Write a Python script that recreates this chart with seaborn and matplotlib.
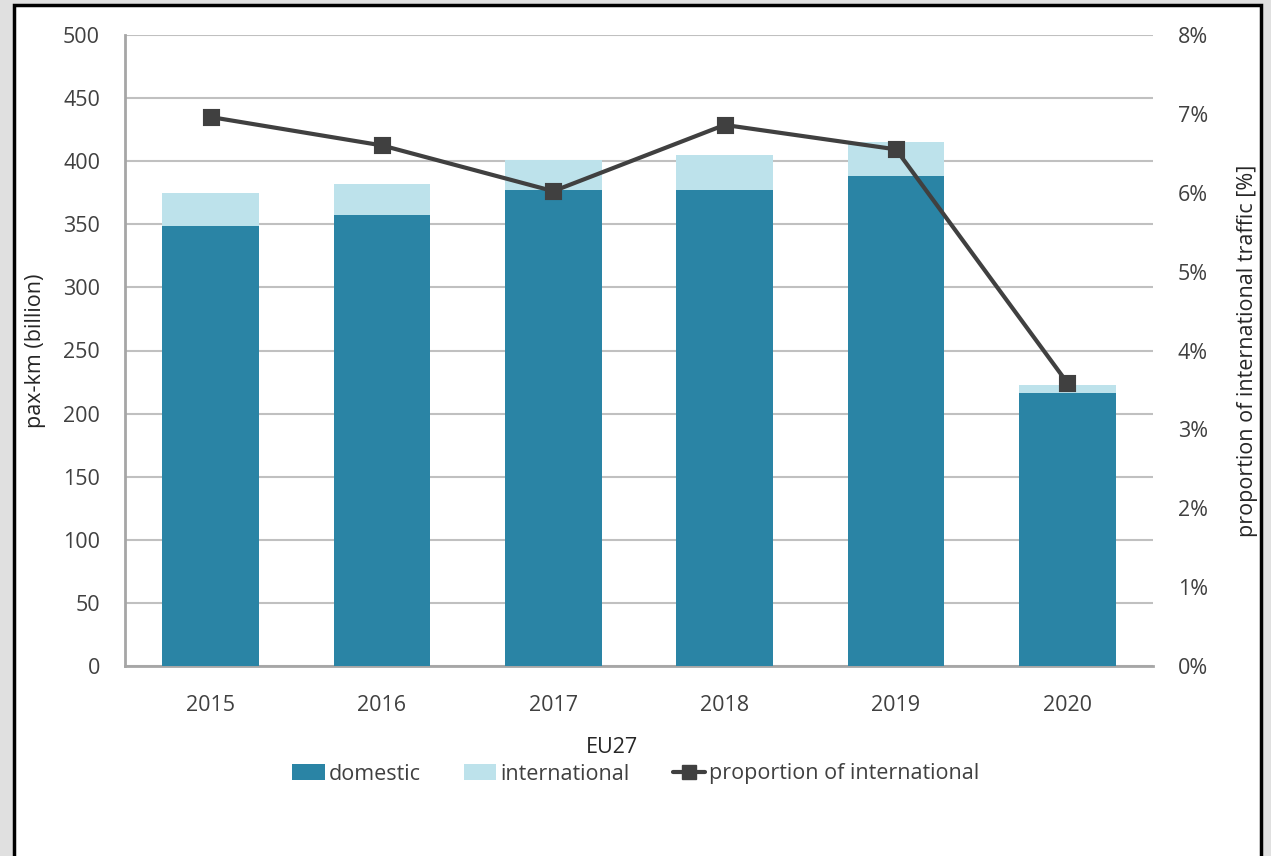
import numpy as np
import pandas as pd
import seaborn as sns
import matplotlib.pyplot as plt
from matplotlib.patches import Rectangle, Patch
from matplotlib.lines import Line2D
from matplotlib.ticker import FuncFormatter

# values
years = ['2015', '2016', '2017', '2018', '2019', '2020']
domestic = [349, 357, 377, 377, 388, 216]
international = [26, 25, 24, 28, 27, 7]
proportion = [6.96, 6.60, 6.02, 6.86, 6.55, 3.59]

dark = '#2a84a5'
light = '#bde2eb'
line_col = '#404040'

sns.set_style('white')
plt.rcParams['font.family'] = ['Open Sans', 'DejaVu Sans']
plt.rcParams['text.color'] = '#404040'

df = pd.DataFrame({'year': years, 'domestic': domestic, 'international': international})
df['total'] = df['domestic'] + df['international']

fig = plt.figure(figsize=(12.71, 8.56), dpi=100, facecolor='#e0e0e0')
# white panel with black border (behind the axes)
fig.patches.append(Rectangle((14 / 1271, -0.05), (1261 - 14) / 1271, 1.05 - 5 / 856,
                             transform=fig.transFigure, facecolor='white',
                             edgecolor='black', linewidth=2.5, zorder=-10))

ax = fig.add_axes([125 / 1271, 1 - 666 / 856, 1028 / 1271, 631 / 856])
ax.set_facecolor('none')

# stacked bars: total (light) underneath, domestic (dark) on top
sns.barplot(data=df, x='year', y='total', color=light, saturation=1, width=0.565, ax=ax, zorder=3)
sns.barplot(data=df, x='year', y='domestic', color=dark, saturation=1, width=0.565, ax=ax, zorder=3)
for p in ax.patches:
    p.set_edgecolor('none')

ax.set_ylim(0, 500)
ax.set_yticks(range(0, 501, 50))
ax.set_xlim(-0.5, 5.5)
ax.yaxis.grid(True, color='#c0c0c0', linewidth=1.5, zorder=0)
ax.set_axisbelow(True)
for s in ['top', 'right']:
    ax.spines[s].set_visible(False)
for s in ['left', 'bottom']:
    ax.spines[s].set_color('#a6a6a6')
    ax.spines[s].set_linewidth(2)
ax.tick_params(axis='y', length=0, pad=18, labelsize=15.5, labelcolor='#404040')
ax.tick_params(axis='x', length=0, pad=21, labelsize=15.5, labelcolor='#404040')
ax.set_xlabel('EU27', fontsize=15.5)
ax.xaxis.set_label_coords(0.474, -0.112)
ax.set_ylabel('pax-km (billion)', fontsize=15.5, labelpad=12)

# proportion line on secondary axis
ax2 = ax.twinx()
sns.pointplot(x=years, y=proportion, ax=ax2, color=line_col, markers='s',
              linewidth=3, markersize=10)
ax2.set_xlim(-0.5, 5.5)
ax2.set_ylim(0, 8)
ax2.set_yticks(range(0, 9))
ax2.yaxis.set_major_formatter(FuncFormatter(lambda v, _: f'{v:.0f}%'))
for s in ax2.spines.values():
    s.set_visible(False)
ax2.tick_params(axis='y', length=0, pad=18, labelsize=15.5, labelcolor='#404040')
ax2.set_ylabel('proportion of international traffic [%]', fontsize=15.5, labelpad=21)

handles = [Patch(facecolor=dark, edgecolor='none'),
           Patch(facecolor=light, edgecolor='none'),
           Line2D([0], [0], color=line_col, linewidth=3, marker='s', markersize=10)]
labels = ['domestic', 'international', 'proportion of international']
fig.legend(handles, labels, loc='center', bbox_to_anchor=(636 / 1271, 1 - 774 / 856),
           ncol=3, frameon=False, fontsize=15.5, handlelength=1.5, handletextpad=0.2,
           columnspacing=2.0)

fig.savefig('out.png', dpi=100, facecolor=fig.get_facecolor())
